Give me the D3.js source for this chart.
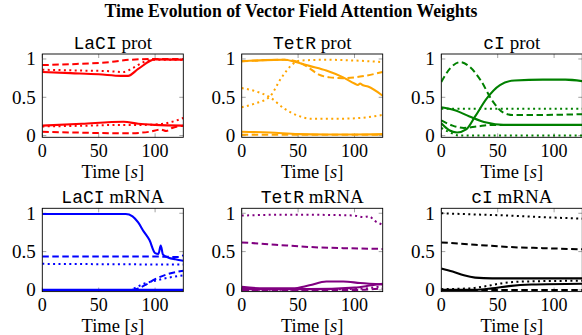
<!DOCTYPE html>
<html>
<head>
<meta charset="utf-8">
<script src="https://cdn.jsdelivr.net/npm/d3@7"></script>
<style>
  body { margin: 0; background: #fff; }
  text { font-family: "Liberation Serif", serif; fill: #000; }
</style>
</head>
<body>
<div id="chart"></div>
<script>
// Panel names (gene, species)
var genes = ["LaCI", "TetR", "cI"];
var kinds = ["prot", "mRNA"];
var xTicks = [0, 50, 100];
var yTicks = [0, 0.5, 1];
var yTickLabels = ["0", "0.5", "1"];

// Each series: list of [time, weight]
var laciProtSolid = [
  [[0,.83],[25,.815],[50,.80],[70,.78],[76,.78],[85,.87],[100,.995],[125,.99]],
  [[0,.13],[35,.155],[72,.18],[85,.155],[100,.14],[125,.13]]
];
var laciProtDashed = [
  [[0,.92],[30,.935],[60,.96],[78,.99],[100,1.0],[125,1.0]],
  [[0,.05],[30,.04],[75,.03],[95,.05],[105,.08],[110,.06],[115,.1],[125,.13]]
];
var laciProtDotted = [
  [[0,.86],[30,.85],[60,.84],[72,.83],[80,.88],[90,.96],[100,.99],[125,.99]],
  [[0,.12],[40,.13],[70,.14],[90,.14],[105,.15],[115,.18],[125,.23]]
];

var tetrProtSolid = [
  [[0,.97],[20,.985],[38,.99],[48,.96],[60,.91],[75,.85],[90,.76],[100,.68],[103,.66],[105,.68],[107,.66],[112,.64],[125,.52]],
  [[0,.05],[25,.04],[50,.02],[75,.015],[100,.015],[125,.02]]
];
var tetrProtDashed = [
  [[0,.97],[38,.99],[48,.97],[58,.9],[68,.8],[78,.76],[90,.75],[105,.77],[125,.83]],
  [[0,.01],[125,.01]]
];
var tetrProtDotted = [
  [[0,.62],[12,.58],[25,.5],[38,.35],[50,.26],[62,.22],[85,.22],[105,.23],[125,.27]],
  [[0,.37],[12,.42],[25,.51],[35,.75],[45,.93],[52,.98],[75,.99],[100,.98],[125,.96]]
];

var ciProtSolid = [
  [[0,.37],[12,.33],[25,.25],[40,.17],[55,.14],[125,.14]],
  [[0,.16],[7,.07],[14,.04],[22,.08],[30,.25],[40,.48],[52,.66],[65,.72],[90,.73],[110,.73],[125,.71]]
];
var ciProtDashed = [
  [[0,.70],[8,.88],[17,.96],[25,.9],[35,.72],[45,.46],[55,.3],[63,.27],[90,.27],[125,.28]],
  [[0,.2],[10,.13],[20,.1],[32,.12],[45,.14],[125,.14]]
];
var ciProtDotted = [
  [[0,.35],[125,.35]],
  [[0,.1],[8,.04],[16,0],[125,0]]
];

var laciMrnaSolid = [
  [[0,.99],[74,.99],[80,.96],[85,.88],[90,.76],[95,.65],[100,.48],[103,.47],[105,.58],[107,.46],[112,.42],[118,.4],[125,.38]],
  [[0,0],[125,0]]
];
var laciMrnaDashed = [
  [[0,.435],[100,.435],[120,.43],[125,.45]],
  [[0,0],[78,0],[85,.02],[92,.07],[100,.14],[110,.2],[125,.25]]
];
var laciMrnaDotted = [
  [[0,.34],[125,.33]],
  [[0,0],[78,0],[84,.04],[90,.08],[100,.12],[112,.16],[125,.19]]
];

var tetrMrnaSolid = [
  [[0,.04],[20,.02],[45,.02],[60,.06],[75,.11],[90,.11],[105,.09],[125,.07]],
  [[0,.01],[60,.01],[100,.03],[115,.06],[125,.08]]
];
var tetrMrnaDashed = [
  [[0,.62],[30,.59],[60,.56],[90,.545],[125,.535]],
  [[0,0],[100,0],[125,.02]]
];
var tetrMrnaDotted = [
  [[0,.97],[30,.98],[60,.98],[90,.975],[100,.97],[108,.95],[113,.96],[118,.9],[125,.85]],
  [[0,0],[90,.01],[110,.02],[125,.05]]
];

var ciMrnaSolid = [
  [[0,.28],[10,.24],[20,.19],[30,.16],[45,.15],[125,.15]],
  [[0,0],[30,0],[45,.02],[60,.05],[80,.07],[125,.08]]
];
var ciMrnaDashed = [
  [[0,.62],[30,.59],[60,.56],[90,.545],[125,.53]],
  [[0,0],[125,0]]
];
var ciMrnaDotted = [
  [[0,1.0],[30,.985],[60,.97],[90,.95],[125,.93]],
  [[0,.01],[25,.02],[40,.05],[55,.09],[75,.11],[125,.12]]
];

// Panel table
var panels = [
  {gene: genes[0], kind: kinds[0], color: "#ff0000", solid: laciProtSolid, dashed: laciProtDashed, dotted: laciProtDotted},
  {gene: genes[1], kind: kinds[0], color: "#ffa500", solid: tetrProtSolid, dashed: tetrProtDashed, dotted: tetrProtDotted},
  {gene: genes[2], kind: kinds[0], color: "#008000", solid: ciProtSolid, dashed: ciProtDashed, dotted: ciProtDotted},
  {gene: genes[0], kind: kinds[1], color: "#0000ff", solid: laciMrnaSolid, dashed: laciMrnaDashed, dotted: laciMrnaDotted},
  {gene: genes[1], kind: kinds[1], color: "#800080", solid: tetrMrnaSolid, dashed: tetrMrnaDashed, dotted: tetrMrnaDotted},
  {gene: genes[2], kind: kinds[1], color: "#000000", solid: ciMrnaSolid, dashed: ciMrnaDashed, dotted: ciMrnaDotted}
];

var W = 582, H = 335;
var colLeft = [42.3, 241.7, 441.3],
    rowTop = [54, 208.3],
    pw = 141,
    ph = 83.3;

var svg = d3.select("#chart")
    .append("svg")
    .attr("width", W)
    .attr("height", H);

// Title
svg.append("text")
    .attr("x", W / 2)
    .attr("y", 17)
    .attr("text-anchor", "middle")
    .attr("font-weight", "bold")
    .attr("font-size", 18)
    .attr("textLength", 373)
    .attr("lengthAdjust", "spacingAndGlyphs")
    .text("Time Evolution of Vector Field Attention Weights");

var styles = [
  {key: "solid", dash: null, width: 2.1},
  {key: "dashed", dash: "6.5,3.5", width: 2},
  {key: "dotted", dash: "2,3.4", width: 2}
];

panels.forEach(function (p, i) {
    var left = colLeft[i % 3],
        top = rowTop[Math.floor(i / 3)];

    var x = d3.scaleLinear().domain([0, 125]).range([0, pw]);
    var y = d3.scaleLinear().domain([-0.022, 1.065]).range([ph, 0]);

    var g = svg.append("g")
        .attr("transform", "translate(" + left + "," + top + ")");

    g.append("clipPath")
        .attr("id", "clip" + i)
        .append("rect")
        .attr("width", pw)
        .attr("height", ph);

    // inner ticks
    var tk = g.append("g").attr("stroke", "#8a8a8a").attr("stroke-width", 0.8);
    xTicks.forEach(function (t) {
        tk.append("line").attr("x1", x(t)).attr("x2", x(t)).attr("y1", ph).attr("y2", ph - 4);
        tk.append("line").attr("x1", x(t)).attr("x2", x(t)).attr("y1", 0).attr("y2", 4);
    });
    yTicks.forEach(function (t) {
        tk.append("line").attr("x1", 0).attr("x2", 4).attr("y1", y(t)).attr("y2", y(t));
        tk.append("line").attr("x1", pw).attr("x2", pw - 4).attr("y1", y(t)).attr("y2", y(t));
    });

    var line = d3.line()
        .x(function (d) { return x(d[0]); })
        .y(function (d) { return y(d[1]); })
        .curve(d3.curveMonotoneX);

    var lines = g.append("g").attr("clip-path", "url(#clip" + i + ")");
    styles.forEach(function (s) {
        lines.selectAll("path." + s.key)
            .data(p[s.key])
            .enter()
            .append("path")
            .attr("class", s.key)
            .attr("d", line)
            .attr("fill", "none")
            .attr("stroke", p.color)
            .attr("stroke-width", s.width)
            .attr("stroke-dasharray", s.dash);
    });

    // frame
    g.append("rect")
        .attr("width", pw)
        .attr("height", ph)
        .attr("fill", "none")
        .attr("stroke", "#000")
        .attr("stroke-width", 0.9);

    // tick labels
    xTicks.forEach(function (t) {
        g.append("text")
            .attr("x", x(t))
            .attr("y", ph + 19.5)
            .attr("text-anchor", "middle")
            .attr("font-size", 18)
            .text(t);
    });
    yTicks.forEach(function (t, k) {
        g.append("text")
            .attr("x", -6.5)
            .attr("y", y(t) + 6.3)
            .attr("text-anchor", "end")
            .attr("font-size", 19)
            .text(yTickLabels[k]);
    });

    // x label
    var xl = g.append("text")
        .attr("x", pw / 2)
        .attr("y", ph + 40.5)
        .attr("text-anchor", "middle")
        .attr("font-size", 18.5);
    xl.append("tspan").text("Time [");
    xl.append("tspan").attr("font-style", "italic").text("s");
    xl.append("tspan").text("]");

    // panel title
    var tt = g.append("text")
        .attr("x", pw / 2)
        .attr("y", -5.5)
        .attr("text-anchor", "middle")
        .attr("font-size", 19);
    tt.append("tspan")
        .style("font-family", "'Liberation Mono', monospace")
        .attr("font-size", 18)
        .text(p.gene);
    tt.append("tspan").text(" " + p.kind);
});
</script>
</body>
</html>
